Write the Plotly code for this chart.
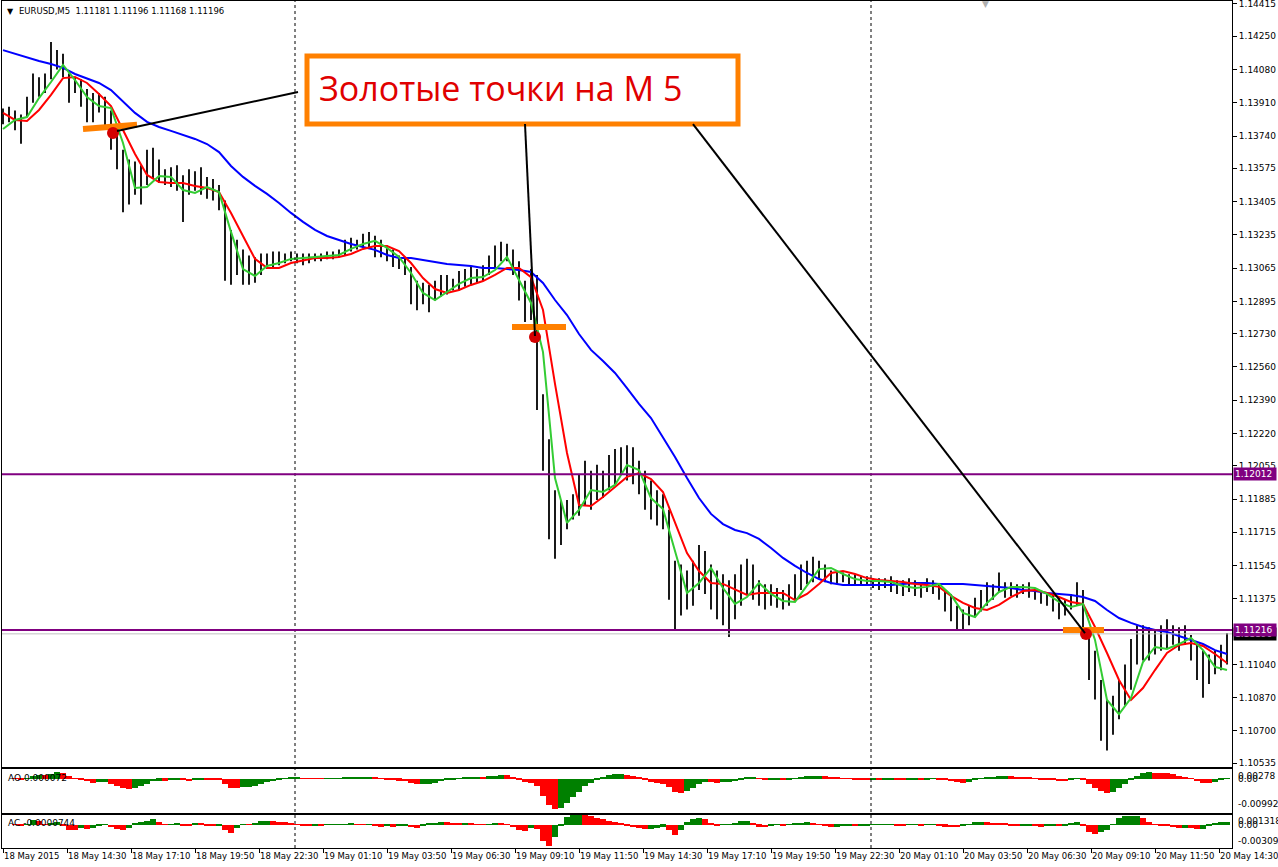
import numpy as np
import pandas as pd
import plotly.graph_objects as go

# ---------------- data (EURUSD, 15-minute resolution) ----------------
highs = [
    1.1388, 1.1389, 1.1387, 1.1385, 1.1394, 1.1406, 1.1404, 1.1406, 1.1422, 1.1418,
    1.1416, 1.1406, 1.1404, 1.1403, 1.1398, 1.1396, 1.1396, 1.1394, 1.1387, 1.1379,
    1.1367, 1.1362, 1.1361, 1.1359, 1.1367, 1.1368, 1.1362, 1.1357, 1.1358, 1.1359,
    1.1354, 1.1357, 1.1356, 1.1358, 1.1353, 1.1352, 1.1349, 1.1341, 1.1326, 1.1321,
    1.1316, 1.1313, 1.1312, 1.1314, 1.1314, 1.1315, 1.1315, 1.1314, 1.1315, 1.1314,
    1.1314, 1.1314, 1.1314, 1.1314, 1.1315, 1.1315, 1.1316, 1.1321, 1.1322, 1.1321,
    1.1324, 1.1325, 1.1323, 1.1321, 1.1318, 1.1316, 1.1313, 1.1312, 1.1307, 1.1300,
    1.1299, 1.1298, 1.1300, 1.1303, 1.1303, 1.1301, 1.1305, 1.1306, 1.1307, 1.1306,
    1.1308, 1.1313, 1.1318, 1.1320, 1.1319, 1.1316, 1.1310, 1.1300, 1.1306, 1.1303,
    1.1242, 1.1219, 1.1193, 1.1188, 1.1188, 1.1191, 1.1201, 1.1208, 1.1203, 1.1206,
    1.1203, 1.1211, 1.1214, 1.1215, 1.1216, 1.1215, 1.1208, 1.1203, 1.1198, 1.1193,
    1.1191, 1.1183, 1.1157, 1.1155, 1.1152, 1.1157, 1.1165, 1.1162, 1.1155, 1.1152,
    1.1150, 1.1147, 1.1150, 1.1155, 1.1158, 1.1155, 1.1147, 1.1145, 1.1145, 1.1143,
    1.1142, 1.1145, 1.1150, 1.1155, 1.1157, 1.1159, 1.1157, 1.1155, 1.1152, 1.1151,
    1.1151, 1.1150, 1.1150, 1.1149, 1.1149, 1.1148, 1.1148, 1.1148, 1.1149, 1.1147,
    1.1147, 1.1148, 1.1147, 1.1146, 1.1148, 1.1147, 1.1145, 1.1142, 1.1140, 1.1134,
    1.1132, 1.1134, 1.1138, 1.1142, 1.1146, 1.1145, 1.1151, 1.1146, 1.1146, 1.1145,
    1.1145, 1.1146, 1.1143, 1.1141, 1.1141, 1.1140, 1.1138, 1.1137, 1.1140, 1.1146,
    1.1142, 1.1122, 1.1111, 1.1096, 1.1086, 1.1088, 1.1096, 1.1104, 1.1117, 1.1124,
    1.1124, 1.1123, 1.1122, 1.1124, 1.1127, 1.1124, 1.1123, 1.1124, 1.1119, 1.1114,
    1.1111, 1.1109, 1.1111, 1.1114, 1.1120,
]
lows = [
    1.1380, 1.1381, 1.1377, 1.1370, 1.1384, 1.1391, 1.1394, 1.1396, 1.1403, 1.1408,
    1.1404, 1.1391, 1.1396, 1.1389, 1.1381, 1.1381, 1.1386, 1.1379, 1.1367, 1.1357,
    1.1335, 1.1339, 1.1344, 1.1339, 1.1349, 1.1352, 1.1350, 1.1349, 1.1348, 1.1346,
    1.1330, 1.1344, 1.1346, 1.1344, 1.1342, 1.1341, 1.1336, 1.1300, 1.1298, 1.1303,
    1.1298, 1.1298, 1.1299, 1.1303, 1.1306, 1.1307, 1.1308, 1.1309, 1.1310, 1.1309,
    1.1308, 1.1309, 1.1310, 1.1310, 1.1311, 1.1311, 1.1312, 1.1313, 1.1315, 1.1316,
    1.1317, 1.1317, 1.1312, 1.1312, 1.1310, 1.1307, 1.1306, 1.1303, 1.1288, 1.1285,
    1.1288, 1.1284, 1.1290, 1.1292, 1.1293, 1.1295, 1.1295, 1.1297, 1.1298, 1.1299,
    1.1300, 1.1303, 1.1307, 1.1310, 1.1310, 1.1303, 1.1290, 1.1279, 1.1280, 1.1234,
    1.1203, 1.1168, 1.1158, 1.1165, 1.1173, 1.1178, 1.1180, 1.1185, 1.1183, 1.1188,
    1.1189, 1.1193, 1.1196, 1.1201, 1.1198, 1.1196, 1.1191, 1.1183, 1.1178, 1.1175,
    1.1173, 1.1137, 1.1122, 1.1129, 1.1132, 1.1134, 1.1142, 1.1140, 1.1132, 1.1127,
    1.1124, 1.1118, 1.1127, 1.1134, 1.1140, 1.1137, 1.1134, 1.1132, 1.1134, 1.1133,
    1.1132, 1.1134, 1.1137, 1.1142, 1.1145, 1.1146, 1.1148, 1.1146, 1.1145, 1.1145,
    1.1146, 1.1145, 1.1145, 1.1144, 1.1144, 1.1143, 1.1142, 1.1143, 1.1141, 1.1140,
    1.1139, 1.1141, 1.1139, 1.1138, 1.1141, 1.1140, 1.1137, 1.1131, 1.1126, 1.1121,
    1.1121, 1.1124, 1.1128, 1.1131, 1.1134, 1.1137, 1.1141, 1.1138, 1.1139, 1.1138,
    1.1140, 1.1138, 1.1137, 1.1135, 1.1134, 1.1131, 1.1127, 1.1129, 1.1132, 1.1134,
    1.1117, 1.1096, 1.1086, 1.1065, 1.1060, 1.1068, 1.1076, 1.1083, 1.1091, 1.1104,
    1.1106, 1.1106, 1.1109, 1.1111, 1.1112, 1.1114, 1.1111, 1.1114, 1.1106, 1.1096,
    1.1087, 1.1094, 1.1099, 1.1101, 1.1104,
]

# moving averages, read every 30 minutes
ma_green = [
    1.13776, 1.13822, 1.13837, 1.13934, 1.14016, 1.14103, 1.14026, 1.13939, 1.13893, 1.13883,
    1.13704, 1.13474, 1.13479, 1.13536, 1.13531, 1.13464, 1.13449, 1.13479, 1.13454, 1.13250,
    1.13060, 1.13025, 1.13076, 1.13091, 1.13112, 1.13117, 1.13122, 1.13127, 1.13132, 1.13163,
    1.13188, 1.13204, 1.13168, 1.13122, 1.13040, 1.12938, 1.12902, 1.12943, 1.12984, 1.13014,
    1.13019, 1.13055, 1.13122, 1.13004, 1.12887, 1.12636, 1.11992, 1.11763, 1.11829, 1.11931,
    1.11921, 1.11957, 1.12059, 1.12033, 1.11890, 1.11834, 1.11625, 1.11405, 1.11456, 1.11533,
    1.11430, 1.11349, 1.11384, 1.11456, 1.11400, 1.11364, 1.11359, 1.11441, 1.11527, 1.11533,
    1.11502, 1.11476, 1.11466, 1.11466, 1.11461, 1.11441, 1.11430, 1.11436, 1.11451, 1.11395,
    1.11303, 1.11282, 1.11354, 1.11410, 1.11436, 1.11436, 1.11430, 1.11400, 1.11359, 1.11333,
    1.11349, 1.11165, 1.10858, 1.10786, 1.10868, 1.11052, 1.11129, 1.11119, 1.11144, 1.11175,
    1.11113, 1.11027, 1.11011,
]
ma_red = [
    1.13858, 1.13822, 1.13817, 1.13873, 1.13950, 1.14036, 1.14042, 1.14011, 1.13955, 1.13893,
    1.13771, 1.13648, 1.13541, 1.13505, 1.13500, 1.13500, 1.13485, 1.13474, 1.13454, 1.13347,
    1.13229, 1.13112, 1.13066, 1.13066, 1.13091, 1.13106, 1.13117, 1.13117, 1.13122, 1.13137,
    1.13163, 1.13178, 1.13178, 1.13152, 1.13091, 1.13014, 1.12958, 1.12938, 1.12953, 1.12979,
    1.12999, 1.13030, 1.13066, 1.13066, 1.13019, 1.12851, 1.12473, 1.12120, 1.11854, 1.11849,
    1.11895, 1.11946, 1.11998, 1.12018, 1.11987, 1.11921, 1.11768, 1.11609, 1.11517, 1.11456,
    1.11451, 1.11425, 1.11395, 1.11405, 1.11405, 1.11405, 1.11369, 1.11400, 1.11451, 1.11507,
    1.11517, 1.11502, 1.11481, 1.11471, 1.11466, 1.11461, 1.11451, 1.11446, 1.11436, 1.11390,
    1.11354, 1.11328, 1.11318, 1.11344, 1.11384, 1.11415, 1.11420, 1.11405, 1.11384, 1.11359,
    1.11349, 1.11231, 1.11098, 1.10960, 1.10858, 1.10919, 1.11011, 1.11098, 1.11139, 1.11149,
    1.11134, 1.11093, 1.11047,
]
ma_blue = [
    1.14179, 1.14159, 1.14139, 1.14123, 1.14108, 1.14088, 1.14057, 1.14036, 1.14011, 1.13975,
    1.13919, 1.13858, 1.13812, 1.13786, 1.13766, 1.13745, 1.13725, 1.13699, 1.13658, 1.13587,
    1.13531, 1.13485, 1.13444, 1.13398, 1.13347, 1.13301, 1.13260, 1.13229, 1.13209, 1.13188,
    1.13173, 1.13158, 1.13132, 1.13117, 1.13117, 1.13106, 1.13096, 1.13086, 1.13081, 1.13076,
    1.13066, 1.13066, 1.13060, 1.13055, 1.13045, 1.12989, 1.12902, 1.12825, 1.12728, 1.12647,
    1.12590, 1.12529, 1.12452, 1.12371, 1.12299, 1.12202, 1.12100, 1.11992, 1.11890, 1.11809,
    1.11757, 1.11727, 1.11711, 1.11681, 1.11635, 1.11584, 1.11543, 1.11507, 1.11476, 1.11456,
    1.11446, 1.11446, 1.11446, 1.11446, 1.11446, 1.11451, 1.11456, 1.11456, 1.11451, 1.11451,
    1.11451, 1.11446, 1.11441, 1.11436, 1.11430, 1.11420, 1.11415, 1.11405, 1.11400, 1.11395,
    1.11384, 1.11364, 1.11318, 1.11277, 1.11252, 1.11231, 1.11216, 1.11206, 1.11185, 1.11165,
    1.11144, 1.11113, 1.11093,
]

level_prices = [1.12012, 1.11216]
bid_price = 1.11196
header_text = "EURUSD,M5  1.11181 1.11196 1.11168 1.11196"
ao_label = "AO 0.000072"
ac_label = "AC -0.0000744"

price_ticks = [1.14415, 1.14250, 1.14080, 1.13910, 1.13740, 1.13575, 1.13405, 1.13235,
               1.13065, 1.12895, 1.12730, 1.12560, 1.12390, 1.12220, 1.12055, 1.11885,
               1.11715, 1.11545, 1.11375, 1.11040, 1.10870, 1.10700, 1.10535]
time_labels = ["18 May 2015", "18 May 14:30", "18 May 17:10", "18 May 19:50", "18 May 22:30",
               "19 May 01:10", "19 May 03:50", "19 May 06:30", "19 May 09:10", "19 May 11:50",
               "19 May 14:30", "19 May 17:10", "19 May 19:50", "19 May 22:30", "20 May 01:10",
               "20 May 03:50", "20 May 06:30", "20 May 09:10", "20 May 11:50", "20 May 14:30"]

# signals ("golden points")
signal_times = ["2015-05-18 16:25", "2015-05-19 10:00", "2015-05-20 08:57:30"]
signal_prices = [1.13755, 1.12713, 1.11195]

assert len(highs) == len(lows) == 205
assert len(ma_green) == len(ma_red) == len(ma_blue) == 103

bar_times = pd.date_range("2015-05-18 11:50", periods=len(highs), freq="15min")
ma_times = bar_times[::2]
label_times = pd.date_range("2015-05-18 11:50", periods=len(time_labels), freq="160min")

# Awesome / Accelerator oscillators derived from the bars
median = pd.Series((np.array(highs) + np.array(lows)) / 2)
ao = median.rolling(2, min_periods=1).mean() - median.rolling(11, min_periods=1).mean()
ac = ao - ao.rolling(3, min_periods=1).mean()
GREEN, RED = "#008000", "#FF0000"
ao_col = [GREEN if i == 0 or ao[i] >= ao[i - 1] else RED for i in range(len(ao))]
ac_col = [GREEN if i == 0 or ac[i] >= ac[i - 1] else RED for i in range(len(ac))]

# ---------------- figure ----------------
W, H = 1278, 867
ML, MR, MT, MB = 2, 46, 1, 19
PH = H - MT - MB


def py(p):
    return (H - MB - p) / PH


def px(p):
    return (p - ML) / (W - ML - MR)


FONT = "DejaVu Sans"
fig = go.Figure()

bx, by = [], []
for t, h, l in zip(bar_times, highs, lows):
    bx += [t, t, None]
    by += [l, h, None]
fig.add_trace(go.Scatter(x=bx, y=by, mode="lines", line=dict(color="black", width=1.8),
                         hoverinfo="skip", xaxis="x", yaxis="y"))
fig.add_trace(go.Scatter(x=ma_times, y=ma_blue, mode="lines", line=dict(color="#0000FF", width=2),
                         xaxis="x", yaxis="y"))
fig.add_trace(go.Scatter(x=ma_times, y=ma_red, mode="lines", line=dict(color="#FF0000", width=2),
                         xaxis="x", yaxis="y"))
fig.add_trace(go.Scatter(x=ma_times, y=ma_green, mode="lines", line=dict(color="#33CC33", width=2),
                         xaxis="x", yaxis="y"))

bar_w = 15 * 60 * 1000
fig.add_trace(go.Bar(x=bar_times, y=ao, marker=dict(color=ao_col, line=dict(width=0)), width=bar_w,
                     xaxis="x2", yaxis="y2"))
fig.add_trace(go.Bar(x=bar_times, y=ac, marker=dict(color=ac_col, line=dict(width=0)), width=bar_w,
                     xaxis="x3", yaxis="y3"))

x_range = ["2015-05-18 11:47:30", "2015-05-20 15:02:30"]
axis_common = dict(showline=True, mirror=True, linecolor="black", linewidth=1,
                   showgrid=False, zeroline=False, automargin=False)

fig.update_layout(
    width=W, height=H,
    margin=dict(l=ML, r=MR, t=MT, b=MB, autoexpand=False),
    paper_bgcolor="white", plot_bgcolor="white",
    showlegend=False, hovermode=False, bargap=0,
    font=dict(family=FONT, size=9, color="black"),
    xaxis=dict(domain=[0, 1], anchor="y", type="date", range=x_range, showticklabels=False,
               ticks="", **axis_common),
    xaxis2=dict(domain=[0, 1], anchor="y2", type="date", matches="x", showticklabels=False,
                ticks="", **axis_common),
    xaxis3=dict(domain=[0, 1], anchor="y3", type="date", matches="x",
                tickvals=list(label_times), ticktext=time_labels, tickangle=0,
                ticks="outside", ticklen=4, tickcolor="black",
                ticklabelposition="outside right", ticklabeloverflow="allow",
                tickfont=dict(family=FONT, size=8.5, color="black"), **axis_common),
    yaxis=dict(domain=[py(767), 1], anchor="x", side="right",
               range=[1.105156, 1.144299], tickvals=price_ticks,
               ticktext=[f"{v:.5f}" for v in price_ticks],
               ticks="outside", ticklen=4, tickcolor="black", ticklabeloverflow="allow",
               tickfont=dict(family=FONT, size=9, color="black"), **axis_common),
    yaxis2=dict(domain=[py(813), py(769)], anchor="x2", side="right",
                range=[-0.009927, 0.00278], showticklabels=False, ticks="", **axis_common),
    yaxis3=dict(domain=[0, py(815)], anchor="x3", side="right",
                range=[-0.003094, 0.001318], showticklabels=False, ticks="", **axis_common),
)

shapes = []
# day separators
for d in ["2015-05-19 00:00", "2015-05-20 00:00"]:
    shapes.append(dict(type="line", xref="x", yref="paper", x0=d, x1=d, y0=0, y1=1,
                       line=dict(color="black", width=1, dash="3px,3px"), layer="above"))
# bid line and levels
shapes.append(dict(type="line", xref="paper", yref="y", x0=0, x1=1, y0=bid_price, y1=bid_price,
                   line=dict(color="#C0C0C0", width=1)))
for lv in level_prices:
    shapes.append(dict(type="line", xref="paper", yref="y", x0=0, x1=1, y0=lv, y1=lv,
                       line=dict(color="#800080", width=2), layer="above"))
# orange annotation box
shapes.append(dict(type="rect", xref="x", yref="y", x0="2015-05-19 00:30", x1="2015-05-19 18:27:30",
                   y0=1.13801, y1=1.14149, line=dict(color="#FF8000", width=5),
                   fillcolor="white", layer="above"))
# orange level marks
for (xa, ya, xb, yb) in [("2015-05-18 15:10", 1.13776, "2015-05-18 17:25", 1.13797),
                         ("2015-05-19 09:02:30", 1.12764, "2015-05-19 11:17:30", 1.12764),
                         ("2015-05-20 08:00", 1.11216, "2015-05-20 09:42:30", 1.11216)]:
    shapes.append(dict(type="line", xref="x", yref="y", x0=xa, y0=ya, x1=xb, y1=yb,
                       line=dict(color="#FF8000", width=6), layer="above"))
# red signal dots
for t, p in zip(signal_times, signal_prices):
    shapes.append(dict(type="circle", xref="x", yref="y", xsizemode="pixel", ysizemode="pixel",
                       xanchor=t, yanchor=p, x0=-6, x1=6, y0=-6, y1=6,
                       fillcolor="#D40000", line=dict(width=0), layer="above"))
# connector lines
for (xa, ya, xb, yb) in [("2015-05-18 16:35", 1.13766, "2015-05-19 00:07:30", 1.13965),
                         ("2015-05-19 09:35", 1.13801, "2015-05-19 10:00", 1.12718),
                         ("2015-05-19 16:35", 1.13801, "2015-05-20 08:55", 1.11200)]:
    shapes.append(dict(type="line", xref="x", yref="y", x0=xa, y0=ya, x1=xb, y1=yb,
                       line=dict(color="black", width=2), layer="above"))
fig.update_layout(shapes=shapes)

ann = []
ann.append(dict(text="Золотые точки на М 5", x="2015-05-19 00:55", y=1.13985, xref="x", yref="y",
                xanchor="left", yanchor="middle", showarrow=False,
                font=dict(family="Open Sans", size=34, color="#E00000")))
ann.append(dict(text="▼", x=px(5), y=py(11), xref="paper", yref="paper", xanchor="left",
                yanchor="middle", showarrow=False, font=dict(family=FONT, size=8, color="black")))
ann.append(dict(text=header_text, x=px(17), y=py(11), xref="paper", yref="paper", xanchor="left",
                yanchor="middle", showarrow=False, font=dict(family=FONT, size=8.5, color="black")))
ann.append(dict(text="▼", x=px(980), y=py(4), xref="paper", yref="paper", xanchor="left",
                yanchor="middle", showarrow=False, font=dict(family=FONT, size=9, color="#B0B0B0")))
# price labels on right axis
ann.append(dict(text=f"{bid_price:.5f}", x=1, y=bid_price, xref="paper", yref="y", xanchor="left",
                yanchor="middle", xshift=1, showarrow=False, bgcolor="black", width=40, align="left",
                font=dict(family=FONT, size=9, color="white")))
for lv in level_prices:
    ann.append(dict(text=f"{lv:.5f}", x=1, y=lv, xref="paper", yref="y",
                    xanchor="left", yanchor="middle", xshift=1, showarrow=False,
                    bgcolor="#800080", width=40, align="left",
                    font=dict(family=FONT, size=9, color="white")))
# indicator panel labels
ann.append(dict(text=ao_label, x=px(6), y=py(778), xref="paper",
                yref="paper", xanchor="left", yanchor="middle", showarrow=False,
                font=dict(family=FONT, size=9, color="black")))
ann.append(dict(text=ac_label, x=px(6), y=py(823), xref="paper", yref="paper",
                xanchor="left", yanchor="middle", showarrow=False,
                font=dict(family=FONT, size=9, color="black")))
for txt, p in [("0.00278", 776), ("0.00", 779), ("-0.009927", 804),
               ("0.001318", 821), ("0.00", 825), ("-0.003094", 841)]:
    ann.append(dict(text=txt, x=1, y=py(p), xref="paper", yref="paper", xanchor="left",
                    yanchor="middle", xshift=4, showarrow=False,
                    font=dict(family=FONT, size=9, color="black")))
fig.update_layout(annotations=ann)

fig.write_html("out.html", config={"displayModeBar": False},
               post_script="document.body.style.margin='0px';")
